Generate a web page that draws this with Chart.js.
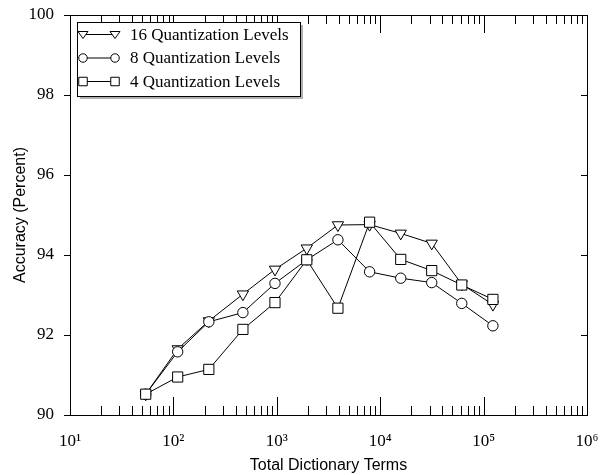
<!DOCTYPE html>
<html>
<head>
<meta charset="utf-8">
<script src="https://cdn.jsdelivr.net/npm/chart.js@4.4.0/dist/chart.umd.min.js"></script>
<style>
  body { margin: 0; background: #fff; }
  #wrap { width: 600px; height: 475px; position: relative; }
</style>
</head>
<body>
<div id="wrap"><canvas id="chart"></canvas></div>
<script>
// dictionary sizes (x) and accuracy per quantization level (y)
const terms = [54, 110, 220, 470, 960, 1950, 3900, 7900, 15800, 31500, 61500, 123000];
const acc16 = [90.52, 91.65, 92.35, 93.02, 93.64, 94.17, 94.75, 94.76, 94.54, 94.29, 93.27, 92.76];
const acc8  = [90.52, 91.58, 92.33, 92.56, 93.29, 93.88, 94.38, 93.58, 93.42, 93.31, 92.79, 92.23];
const acc4  = [90.52, 90.95, 91.14, 92.14, 92.81, 93.88, 92.67, 94.82, 93.89, 93.61, 93.25, 92.89];
const seriesNames = ["16 Quantization Levels", "8 Quantization Levels", "4 Quantization Levels"];
const xTickLabels = { 1: "10\u00B9", 2: "10\u00B2", 3: "10\u00B3", 4: "10\u2074", 5: "10\u2075", 6: "10\u2076" };
const yTicks = [90, 92, 94, 96, 98, 100];

Chart.defaults.color = "#000";

const pts = arr => arr.map((v, i) => ({ x: terms[i], y: v }));
const isDecade = v => Math.abs(Math.log10(v) - Math.round(Math.log10(v))) < 1e-9;

function series(label, data, style, radius, rotation, order) {
  return {
    label: label,
    data: pts(data),
    borderColor: "#000",
    borderWidth: 1,
    backgroundColor: "#fff",
    pointStyle: style,
    pointRadius: radius,
    pointRotation: rotation,
    pointBorderWidth: 1,
    pointBackgroundColor: "#fff",
    pointBorderColor: "#000",
    tension: 0,
    order: order
  };
}

// marker shape used in the legend
function marker(ctx, style, x, y, s) {
  ctx.beginPath();
  if (style === "triangle") {
    ctx.moveTo(x - s, y - s * 0.6);
    ctx.lineTo(x + s, y - s * 0.6);
    ctx.lineTo(x, y + s * 0.8);
    ctx.closePath();
  } else if (style === "circle") {
    ctx.arc(x, y, s * 0.85, 0, Math.PI * 2);
  } else {
    ctx.rect(x - s * 0.85, y - s * 0.85, s * 1.7, s * 1.7);
  }
  ctx.fill();
  ctx.stroke();
}

const frame = {
  id: "frame",
  beforeDatasetsDraw(chart) {
    const { ctx, chartArea: a, scales: { x, y } } = chart;
    ctx.save();
    ctx.strokeStyle = "#000";
    ctx.lineWidth = 1;
    ctx.strokeRect(a.left + 0.5, a.top + 0.5, a.right - a.left, a.bottom - a.top);
    ctx.beginPath();
    x.ticks.forEach(t => {
      const px = Math.round(x.getPixelForValue(t.value)) + 0.5;
      const len = isDecade(t.value) ? 18 : 9;
      ctx.moveTo(px, a.bottom); ctx.lineTo(px, a.bottom - len);
      ctx.moveTo(px, a.top); ctx.lineTo(px, a.top + len);
    });
    y.ticks.forEach(t => {
      const py = Math.round(y.getPixelForValue(t.value)) + 0.5;
      ctx.moveTo(a.left - 6, py); ctx.lineTo(a.left, py);
      ctx.moveTo(a.right - 6, py); ctx.lineTo(a.right, py);
    });
    ctx.stroke();
    ctx.restore();
  }
};

const legendBox = {
  id: "legendBox",
  afterDraw(chart) {
    const { ctx, chartArea: a } = chart;
    const bx = a.left + 7, by = a.top + 7, bw = 223, bh = 74;
    ctx.save();
    ctx.fillStyle = "#b0b0b0";
    ctx.fillRect(bx + 3, by + 3, bw, bh);
    ctx.fillStyle = "#fff";
    ctx.fillRect(bx, by, bw, bh);
    ctx.strokeStyle = "#000";
    ctx.lineWidth = 1;
    ctx.strokeRect(bx + 0.5, by + 0.5, bw, bh);
    ctx.font = '17px "Liberation Serif", "Times New Roman", serif';
    ctx.textBaseline = "middle";
    chart.data.datasets.forEach((ds, i) => {
      const ry = by + 12.5 + i * 23.5;
      ctx.beginPath();
      ctx.moveTo(bx + 6, ry); ctx.lineTo(bx + 38, ry);
      ctx.stroke();
      ctx.fillStyle = "#fff";
      marker(ctx, ds.pointStyle, bx + 6, ry, 5);
      marker(ctx, ds.pointStyle, bx + 38, ry, 5);
      ctx.fillStyle = "#000";
      ctx.fillText(ds.label, bx + 53, ry + 1);
    });
    ctx.restore();
  }
};

new Chart(document.getElementById("chart"), {
  type: "line",
  data: {
    datasets: [
      series(seriesNames[0], acc16, "triangle", 6.5, 180, 2),
      series(seriesNames[1], acc8, "circle", 5.2, 0, 1),
      series(seriesNames[2], acc4, "rect", 7.2, 0, 0)
    ]
  },
  options: {
    responsive: true,
    maintainAspectRatio: false,
    animation: false,
    layout: { padding: { top: 15, right: 13, left: 0, bottom: 0 } },
    plugins: { legend: { display: false }, tooltip: { enabled: false } },
    scales: {
      x: {
        type: "logarithmic",
        min: 10,
        max: 1e6,
        afterBuildTicks(scale) {
          const ticks = [];
          for (let e = 1; e < 6; e++) {
            for (let m = 1; m < 10; m++) ticks.push({ value: m * Math.pow(10, e) });
          }
          ticks.push({ value: 1e6 });
          scale.ticks = ticks;
        },
        afterFit(scale) {
          scale.height = 60;
          scale.paddingLeft = 0;
          scale.paddingRight = 0;
        },
        grid: { display: false },
        border: { display: false },
        ticks: {
          autoSkip: false,
          maxRotation: 0,
          padding: 8,
          font: { family: '"Liberation Serif", "DejaVu Serif", serif', size: 17 },
          callback(v) {
            return isDecade(v) ? xTickLabels[Math.round(Math.log10(v))] : "";
          }
        },
        title: {
          display: true,
          text: "Total Dictionary Terms",
          font: { family: '"Liberation Sans", Arial, sans-serif', size: 16 },
          padding: { top: 0, bottom: 0 }
        }
      },
      y: {
        min: 90,
        max: 100,
        afterBuildTicks(scale) { scale.ticks = yTicks.map(v => ({ value: v })); },
        afterFit(scale) {
          scale.width = 70;
          scale.paddingTop = 0;
          scale.paddingBottom = 0;
        },
        grid: { display: false },
        border: { display: false },
        ticks: {
          padding: 8,
          font: { family: '"Liberation Serif", "Times New Roman", serif', size: 17 }
        },
        title: {
          display: true,
          text: "Accuracy (Percent)",
          font: { family: '"Liberation Sans", Arial, sans-serif', size: 16 },
          padding: { top: 11, bottom: 0 }
        }
      }
    }
  },
  plugins: [frame, legendBox]
});
</script>
</body>
</html>
